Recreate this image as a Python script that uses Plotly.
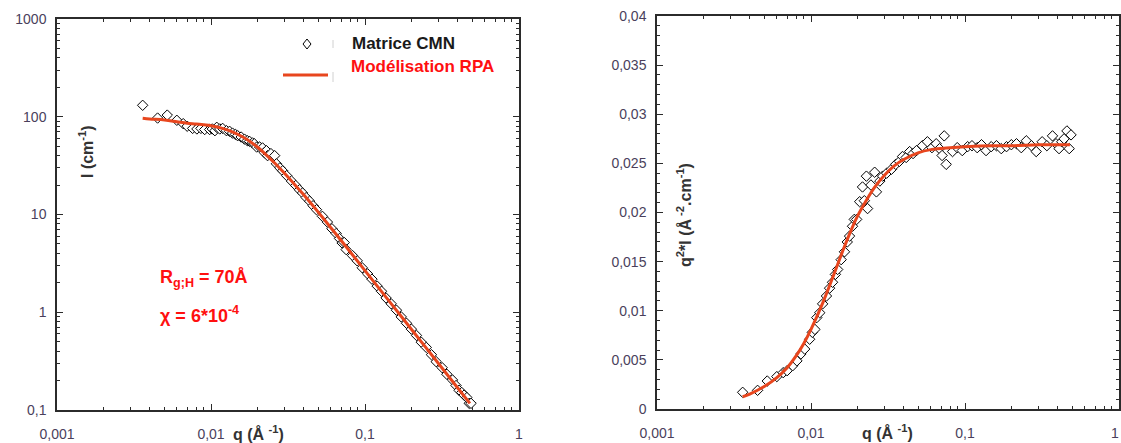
import plotly.graph_objects as go

# ---------------- data ----------------
q_data = [0.0036, 0.0045, 0.0052, 0.0060, 0.0066, 0.0070, 0.0076, 0.0081, 0.0086, 0.0091,
          0.0098, 0.0102, 0.0106, 0.0109, 0.0114, 0.0119, 0.0126, 0.0132, 0.0138, 0.0144,
          0.0149, 0.0157, 0.0165, 0.0172, 0.0178, 0.0186, 0.0191, 0.0198, 0.0207, 0.0216,
          0.0222, 0.0229, 0.0233, 0.0245, 0.0259, 0.0266, 0.0280, 0.0292, 0.0310, 0.0333,
          0.0355, 0.0375, 0.0393, 0.0415, 0.0437, 0.0460, 0.0484, 0.0529, 0.0570, 0.0610,
          0.0650, 0.0683, 0.0710, 0.0733, 0.0755, 0.0830, 0.0890, 0.0960, 0.104, 0.111,
          0.120, 0.128, 0.137, 0.148, 0.160, 0.172, 0.186, 0.200, 0.216, 0.232,
          0.250, 0.270, 0.290, 0.317, 0.340, 0.370, 0.390, 0.408, 0.425, 0.440,
          0.459, 0.475, 0.488]

# left panel : I (cm-1)
I_data = [131, 97, 104, 92, 85, 80, 76, 75, 76, 74,
          74, 75, 72, 78, 75, 76, 72, 71, 68, 66,
          64, 62, 59, 57, 56, 54, 53, 49, 49, 48,
          43, 45, 40, 42, 40, 33, 30, 28, 25, 22,
          19.8, 17.9, 16.6, 14.9, 13.7, 12.3, 11.2, 9.58, 8.37, 7.15,
          6.39, 5.68, 5.12, 5.17, 4.37, 3.80, 3.36, 2.85, 2.47, 2.18,
          1.85, 1.64, 1.40, 1.22, 1.05, 0.896, 0.772, 0.672, 0.579, 0.494,
          0.437, 0.368, 0.312, 0.271, 0.232, 0.203, 0.178, 0.159, 0.151, 0.142,
          0.134, 0.117, 0.117]

# right panel : q^2*I
q2I_data = [0.0017, 0.0019, 0.00285, 0.0033, 0.0037, 0.0039, 0.0044, 0.0049, 0.0056, 0.0061,
            0.0071, 0.0078, 0.0081, 0.0093, 0.0098, 0.0107, 0.0115, 0.0123, 0.0129, 0.0137,
            0.0142, 0.0152, 0.0160, 0.0170, 0.0176, 0.0186, 0.0193, 0.0193, 0.0211, 0.0226,
            0.0212, 0.0237, 0.0204, 0.0228, 0.0241, 0.0221, 0.0232, 0.0237, 0.0240, 0.0244,
            0.0249, 0.0252, 0.0257, 0.0256, 0.0262, 0.0260, 0.0263, 0.0268, 0.0272, 0.0266,
            0.0270, 0.0265, 0.0258, 0.0278, 0.0249, 0.0262, 0.0266, 0.0263, 0.0267, 0.0268,
            0.0266, 0.0269, 0.0263, 0.0267, 0.0268, 0.0265, 0.0267, 0.0269, 0.0270, 0.0266,
            0.0273, 0.0268, 0.0262, 0.0272, 0.0268, 0.0278, 0.0270, 0.0265, 0.0272, 0.0275,
            0.0283, 0.0265, 0.0279]

# RPA model curve
q_fit = [0.0036, 0.004, 0.005, 0.006, 0.007, 0.008, 0.009, 0.010, 0.012, 0.014,
         0.016, 0.018, 0.020, 0.023, 0.026, 0.030, 0.035, 0.040, 0.050, 0.060,
         0.080, 0.10, 0.15, 0.20, 0.30, 0.40, 0.48]
I_fit = [96.5, 95, 92.8, 88.9, 85.7, 84.4, 82.7, 81, 75.7, 69.4,
         62.5, 55.6, 49, 40.3, 33.4, 26.4, 20.2, 15.9, 10.44, 7.33,
         4.16, 2.67, 1.191, 0.670, 0.299, 0.168, 0.117]
q2I_fit = [0.00125, 0.00152, 0.00232, 0.0032, 0.0042, 0.0054, 0.0067, 0.0081, 0.0109, 0.0136,
           0.0160, 0.0180, 0.0196, 0.0213, 0.0226, 0.0238, 0.0248, 0.0254, 0.0261, 0.0264,
           0.0266, 0.0267, 0.0268, 0.0268, 0.0269, 0.0269, 0.0269]

x_tickvals = [0.001, 0.01, 0.1, 1]
x_ticktext = ["0,001", "0,01", "0,1", "1"]
x2_ticktext = ["0,001", "0,01", "0,1", ""]   # last label drawn separately at the page edge
yl_tickvals = [0.1, 1, 10, 100, 1000]
yl_ticktext = ["0,1", "1", "10", "100", "1000"]
yr_tickvals = [0, 0.005, 0.01, 0.015, 0.02, 0.025, 0.03, 0.035, 0.04]
yr_ticktext = ["0", "0,005", "0,01", "0,015", "0,02", "0,025", "0,03", "0,035", "0,04"]

# ---------------- styling ----------------
W, H = 1121, 443
FONT = "Liberation Sans, Arial, sans-serif"
TICKCOL = "#4a3f5c"
AXCOL = "#2b2b2b"
LINECOL = "#E8461E"
RED = "#FF1010"

def px(x):
    return x / W

def py(y):
    return (H - y) / H

log_minor = [m * 10 ** e for e in (-3, -2, -1) for m in range(2, 10)]

marker_style = dict(symbol="diamond", size=8, color="white", line=dict(color="black", width=1))

fig = go.Figure()
fig.add_trace(go.Scatter(x=q_data, y=I_data, mode="markers", marker=marker_style,
                         name="Matrice CMN", xaxis="x", yaxis="y", showlegend=False))
fig.add_trace(go.Scatter(x=q_fit, y=I_fit, mode="lines", line=dict(color=LINECOL, width=3, shape="spline"),
                         name="Modélisation RPA", xaxis="x", yaxis="y", showlegend=False))
fig.add_trace(go.Scatter(x=q_data, y=q2I_data, mode="markers", marker=marker_style,
                         name="Matrice CMN", xaxis="x2", yaxis="y2", showlegend=False))
fig.add_trace(go.Scatter(x=q_fit, y=q2I_fit, mode="lines", line=dict(color=LINECOL, width=3, shape="spline"),
                         name="Modélisation RPA", xaxis="x2", yaxis="y2", showlegend=False))

tickfont = dict(family=FONT, size=14, color=TICKCOL)
common = dict(showline=True, linecolor=AXCOL, linewidth=1.5, mirror="ticks", ticks="inside",
              ticklen=6, tickwidth=1.3, tickcolor=AXCOL, showgrid=False, zeroline=False,
              automargin=False, tickfont=tickfont)

xaxis_common = dict(common, type="log", range=[-3, 0], tickmode="array",
                    tickvals=x_tickvals, ticklabelstandoff=10,
                    minor=dict(tickmode="array", tickvals=log_minor, ticks="inside",
                               ticklen=3, tickcolor=AXCOL, showgrid=False))

fig.update_layout(
    width=W, height=H,
    margin=dict(l=0, r=0, t=0, b=0, autoexpand=False),
    paper_bgcolor="white", plot_bgcolor="white",
    showlegend=False,
    xaxis=dict(xaxis_common, ticktext=x_ticktext, domain=[px(57), px(519)], anchor="y"),
    yaxis=dict(common, type="log", range=[-1, 3], domain=[py(410), py(19)], anchor="x",
               tickmode="array", tickvals=yl_tickvals, ticktext=yl_ticktext, ticklabelstandoff=6,
               minor=dict(tickmode="array", tickvals=[m * 10 ** e for e in (-1, 0, 1, 2) for m in range(2, 10)],
                          ticks="inside", ticklen=3, tickcolor=AXCOL, showgrid=False)),
    xaxis2=dict(xaxis_common, ticktext=x2_ticktext, domain=[px(657), px(1119)], anchor="y2"),
    yaxis2=dict(common, range=[0, 0.04], domain=[py(409), py(16)], anchor="x2",
                tickmode="array", tickvals=yr_tickvals, ticktext=yr_ticktext, ticklabelstandoff=6,
                minor=dict(dtick=0.001, ticks="inside", ticklen=3, tickcolor=AXCOL, showgrid=False)),
)

ann = []
title_font = dict(family=FONT, size=16, color="#333333")
ann.append(dict(text="1", x=px(1121), y=py(433), xref="paper", yref="paper", showarrow=False,
                font=tickfont, xanchor="right", yanchor="middle"))
ann.append(dict(text="<b>q (Å <sup>-1</sup>)</b>", x=px(258), y=py(433), xref="paper", yref="paper",
                showarrow=False, font=title_font, xanchor="center", yanchor="middle"))
ann.append(dict(text="<b>q (Å <sup>-1</sup>)</b>", x=px(887), y=py(432), xref="paper", yref="paper",
                showarrow=False, font=title_font, xanchor="center", yanchor="middle"))
ann.append(dict(text="<b>I (cm<sup>-1</sup>)</b>", x=px(86), y=py(152), xref="paper", yref="paper",
                showarrow=False, font=title_font, textangle=-90, xanchor="center", yanchor="middle"))
ann.append(dict(text="<b>q<sup>2</sup>*I (Å<sup> -2</sup>.cm<sup>-1</sup>)</b>", x=px(684), y=py(215),
                xref="paper", yref="paper", showarrow=False, font=title_font, textangle=-90,
                xanchor="center", yanchor="middle"))
# legend texts
ann.append(dict(text="<b>Matrice CMN</b>", x=px(350), y=py(44), xref="paper", yref="paper",
                showarrow=False, font=dict(family=FONT, size=17, color="#1a1a1a"),
                xanchor="left", yanchor="middle"))
ann.append(dict(text="<b>Modélisation RPA</b>", x=px(349), y=py(67), xref="paper", yref="paper",
                showarrow=False, font=dict(family=FONT, size=17, color=RED),
                xanchor="left", yanchor="middle"))
# parameters
ann.append(dict(text="<b>R<sub>g;H</sub> = 70Å</b>", x=px(158), y=py(278), xref="paper", yref="paper",
                showarrow=False, font=dict(family=FONT, size=18, color=RED),
                xanchor="left", yanchor="middle"))
ann.append(dict(text="<b>χ = 6*10<sup>-4</sup></b>", x=px(158), y=py(314), xref="paper", yref="paper",
                showarrow=False, font=dict(family=FONT, size=18, color=RED),
                xanchor="left", yanchor="middle"))
fig.update_layout(annotations=ann)

shapes = []
# legend symbol: diamond
shapes.append(dict(type="path", xref="paper", yref="paper", xsizemode="pixel", ysizemode="pixel",
                   xanchor=px(307), yanchor=py(44), path="M -4,0 L 0,5 L 4,0 L 0,-5 Z",
                   line=dict(color="black", width=1), fillcolor="white"))
# legend symbol: line
shapes.append(dict(type="line", xref="paper", yref="paper", x0=px(283), x1=px(328), y0=py(75), y1=py(75),
                   line=dict(color=LINECOL, width=3)))
# faint separators
shapes.append(dict(type="line", xref="paper", yref="paper", x0=px(333), x1=px(333), y0=py(40), y1=py(48),
                   line=dict(color="#d0d0d0", width=1)))
shapes.append(dict(type="line", xref="paper", yref="paper", x0=px(333), x1=px(333), y0=py(72), y1=py(82),
                   line=dict(color="#d0d0d0", width=1)))
fig.update_layout(shapes=shapes)

fig.write_html("out.html", config={"displayModeBar": False},
               post_script="document.body.style.margin='0';")
